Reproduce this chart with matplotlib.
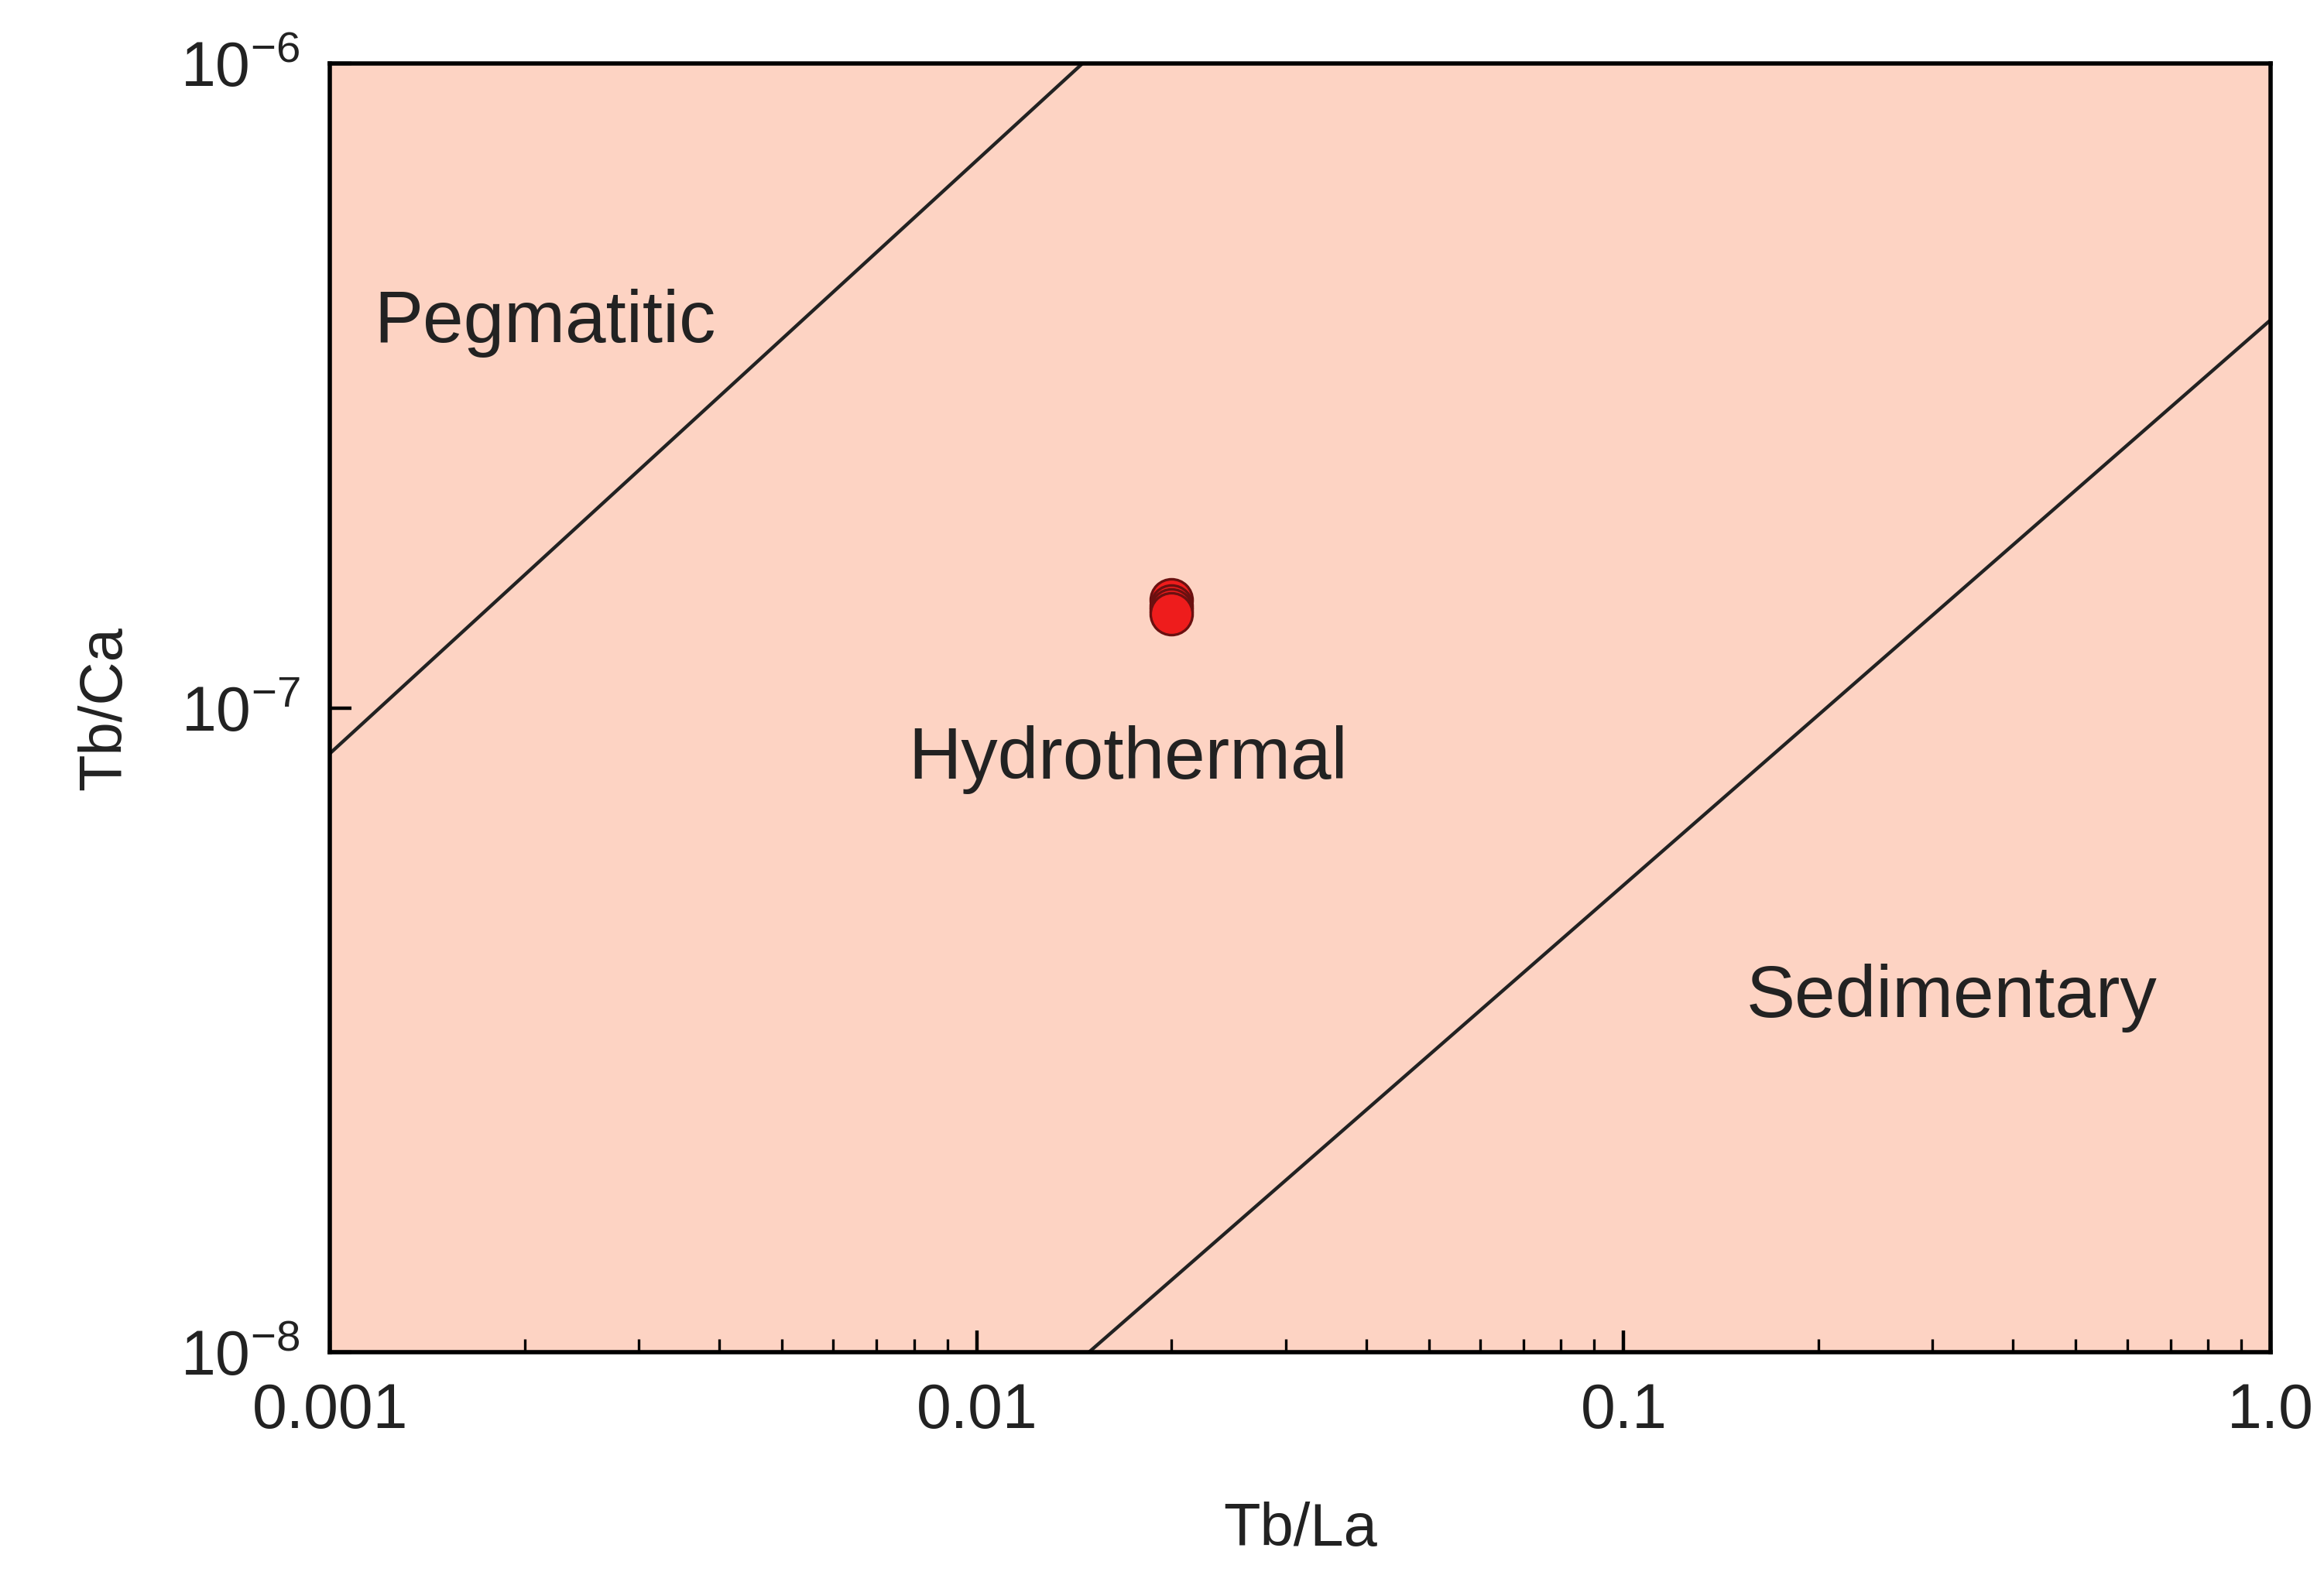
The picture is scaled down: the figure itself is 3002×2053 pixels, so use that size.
import numpy as np
import matplotlib.pyplot as plt

plt.rcParams['font.family'] = ['Liberation Sans', 'DejaVu Sans']
plt.rcParams['mathtext.fontset'] = 'custom'
plt.rcParams['mathtext.rm'] = 'Liberation Sans'
plt.rcParams['axes.unicode_minus'] = False

# boundary lines (Tb/La, Tb/Ca)
line1_x = [0.001, 0.01456]
line1_y = [8.5e-8, 1e-6]
line2_x = [0.0149, 1.0]
line2_y = [1e-8, 4.0e-7]

# samples
sample_x = [0.0200, 0.0200, 0.0200, 0.0200]
sample_y = [1.47e-7, 1.44e-7, 1.42e-7, 1.40e-7]

regions = ['Pegmatitic', 'Hydrothermal', 'Sedimentary']
region_x = [0.00117, 0.01714, 0.321]
region_y = [3.96e-7, 8.3e-8, 3.55e-8]
region_ha = ['left', 'center', 'center']

fig = plt.figure(figsize=(15.01, 10.265), dpi=200)
ax = fig.add_axes([0.142, 0.149, 0.835, 0.811])
ax.set_facecolor('#fdd3c3')
ax.set_xscale('log')
ax.set_yscale('log')
ax.set_xlim(0.001, 1.0)
ax.set_ylim(1e-8, 1e-6)

ax.plot(line1_x, line1_y, color='#222222', lw=1.6)
ax.plot(line2_x, line2_y, color='#222222', lw=1.6)
ax.scatter(sample_x, sample_y, s=380, color='#ee1c1c', edgecolor='#6b1010', lw=1.2, zorder=3)

for t, x, y, ha in zip(regions, region_x, region_y, region_ha):
    ax.text(x, y, t, ha=ha, va='center', fontsize=34, color='#222222')

ax.set_xticks([0.001, 0.01, 0.1, 1.0])
ax.set_xticklabels(['0.001', '0.01', '0.1', '1.0'])
ax.set_yticks([1e-8, 1e-7, 1e-6])
ax.set_yticklabels([r'$10^{-8}$', r'$10^{-7}$', r'$10^{-6}$'])
ax.yaxis.set_minor_locator(plt.NullLocator())
ax.tick_params(which='both', direction='in', labelsize=29, pad=14, labelcolor='#222222')
ax.tick_params(which='major', length=10, width=1.6)
ax.tick_params(which='minor', length=6, width=1.2)
for s in ax.spines.values():
    s.set_linewidth(2)
ax.set_xlabel('Tb/La', fontsize=28, labelpad=28, color='#222222')
ax.set_ylabel('Tb/Ca', fontsize=28, labelpad=22, color='#222222')

fig.savefig('out.png', dpi=200)
